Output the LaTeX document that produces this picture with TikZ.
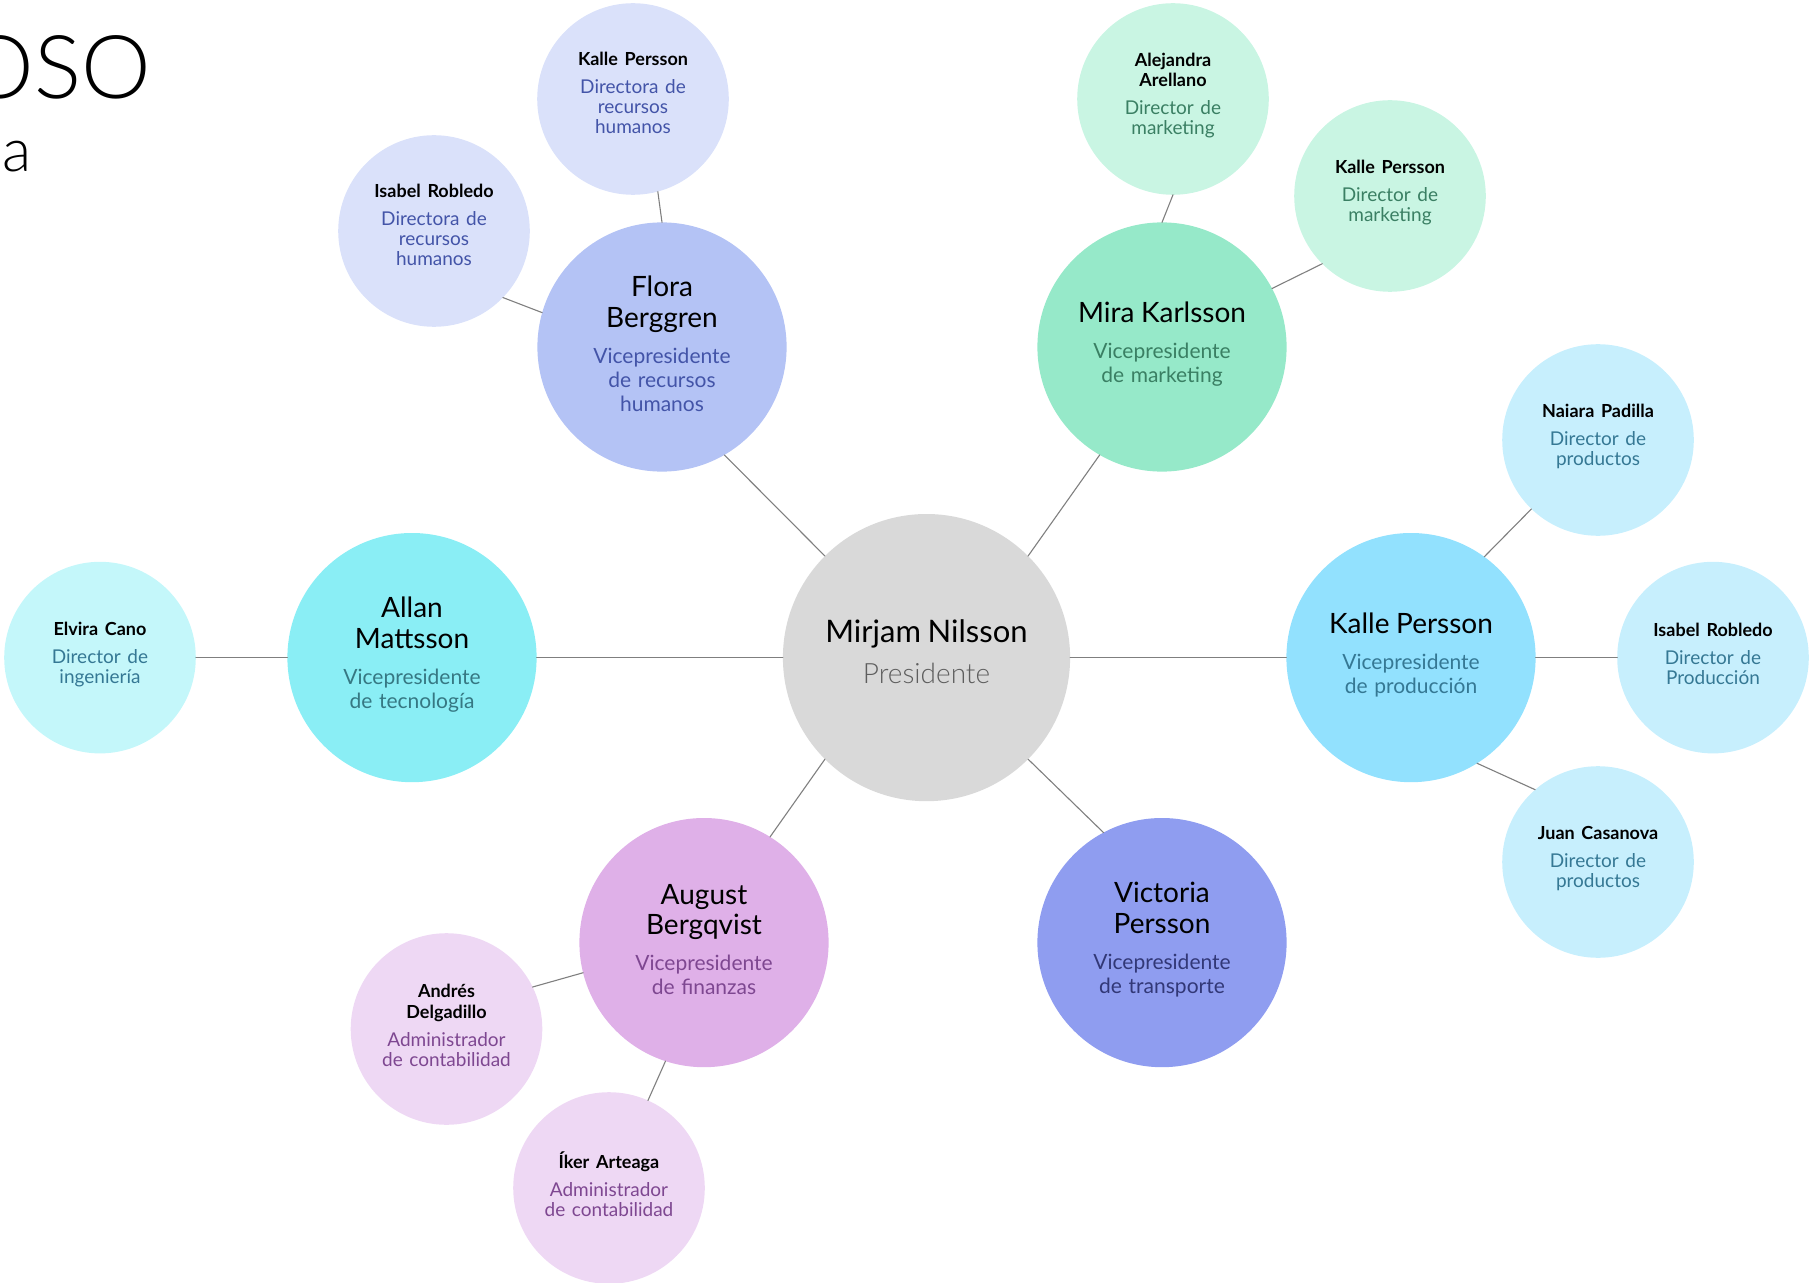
\documentclass[tikz,border=0pt]{standalone}
\usepackage{fontspec}
\setmainfont{Lato}
\newfontfamily\lightf{Lato Light}
\usetikzlibrary{positioning}

\definecolor{presfill}{HTML}{D9D9D9}
\definecolor{prestxt}{HTML}{5E5E5E}
\definecolor{hrmid}{HTML}{B4C3F5}
\definecolor{hrsmall}{HTML}{DAE1FA}
\definecolor{hrtxt}{HTML}{4354A8}
\definecolor{mkmid}{HTML}{96E9C9}
\definecolor{mksmall}{HTML}{C9F5E3}
\definecolor{mktxt}{HTML}{3A7F63}
\definecolor{prmid}{HTML}{92E1FE}
\definecolor{prsmall}{HTML}{C7EFFD}
\definecolor{prtxt}{HTML}{357894}
\definecolor{tcmid}{HTML}{8AEEF5}
\definecolor{tcsmall}{HTML}{C4F7FA}
\definecolor{tctxt}{HTML}{367883}
\definecolor{fnmid}{HTML}{DFB0E8}
\definecolor{fnsmall}{HTML}{EED8F4}
\definecolor{fntxt}{HTML}{7E4791}
\definecolor{trmid}{HTML}{8F9DF0}
\definecolor{trtxt}{HTML}{323877}
\definecolor{linkgray}{HTML}{7F7F7F}

\setlength{\parskip}{0pt}
% texto de cada burbuja
\newcommand{\topname}[1]{{\fontsize{15.5}{18}\selectfont #1\par}}
\newcommand{\toprole}[1]{\vspace{3.5pt}{\lightf\fontsize{14}{17}\selectfont\color{prestxt}#1\par}\kern5.8pt}
\newcommand{\vpname}[1]{{\fontsize{14}{15.3}\selectfont #1\par}}
\newcommand{\vprole}[2]{\vspace{6pt}{\fontsize{10.5}{12}\selectfont\color{#1}#2\par}\kern3pt}
\newcommand{\dirname}[1]{{\bfseries\fontsize{9}{10.4}\selectfont #1\par}}
\newcommand{\dirrole}[3][3.5pt]{\vspace{4pt}{\fontsize{9.5}{10}\selectfont\color{#2}#3\par}\kern#1}

\begin{document}
\begin{tikzpicture}[x=0.5pt, y=-0.5pt, line cap=round,
  every node/.style={inner sep=0pt, outer sep=0pt},
  bubble/.style={circle, align=center},
  pres/.style={bubble, fill=presfill, minimum size=143.6pt, text width=110pt},
  vp/.style={bubble, minimum size=124.6pt, text width=92pt},
  dir/.style={bubble, minimum size=95.8pt, text width=68pt},
  link/.style={draw=linkgray, line width=0.55pt}]
\useasboundingbox (0,0) rectangle (1809,1283);
\clip (0,0) rectangle (1809,1283);

% titulo cortado
\node[anchor=base east, font=\lightf\fontsize{44}{52}\selectfont] (title) at (151,99) {OSO};
\node[anchor=base east, font=\lightf\fontsize{30}{36}\selectfont] (subtitle) at (32,172) {na};

% presidente
\node[pres] (pres) at (926.5,657.6) {\topname{Mirjam Nilsson}\toprole{Presidente}};

% vicepresidentes
\node[vp, fill=hrmid] (flora) at (662,347) {\vpname{Flora\\Berggren}\vprole{hrtxt}{Vicepresidente\\de recursos\\humanos}};
\node[vp, fill=mkmid] (mira) at (1162,347) {\vpname{Mira Karlsson}\vprole{mktxt}{Vicepresidente\\de marketing}};
\node[vp, fill=tcmid] (allan) at (412,657.6) {\vpname{Allan\\Mattsson}\vprole{tctxt}{Vicepresidente\\de tecnología}};
\node[vp, fill=prmid] (kalle) at (1411,657.6) {\vpname{Kalle Persson}\vprole{prtxt}{Vicepresidente\\de producción}};
\node[vp, fill=fnmid] (august) at (704,942.6) {\vpname{August\\Bergqvist}\vprole{fntxt}{Vicepresidente\\de finanzas}};
\node[vp, fill=trmid] (victoria) at (1162,942.6) {\vpname{Victoria\\Persson}\vprole{trtxt}{Vicepresidente\\de transporte}};

% directores
\node[dir, fill=hrsmall] (kallehr) at (633,99) {\dirname{Kalle Persson}\dirrole[5.8pt]{hrtxt}{Directora de\\recursos\\humanos}};
\node[dir, fill=hrsmall] (isabelhr) at (434,231) {\dirname{Isabel Robledo}\dirrole[5.8pt]{hrtxt}{Directora de\\recursos\\humanos}};
\node[dir, fill=mksmall] (alejandra) at (1173,99) {\dirname{Alejandra\\Arellano}\dirrole{mktxt}{Director de\\marketing}};
\node[dir, fill=mksmall] (kallemk) at (1390,196) {\dirname{Kalle Persson}\dirrole{mktxt}{Director de\\marketing}};
\node[dir, fill=prsmall] (naiara) at (1598,440) {\dirname{Naiara Padilla}\dirrole{prtxt}{Director de\\productos}};
\node[dir, fill=prsmall] (isabelpr) at (1713,657.6) {\dirname{Isabel Robledo}\dirrole{prtxt}{Director de\\Producción}};
\node[dir, fill=prsmall] (juan) at (1598,862) {\dirname{Juan Casanova}\dirrole{prtxt}{Director de\\productos}};
\node[dir, fill=tcsmall] (elvira) at (100,657.6) {\dirname{Elvira Cano}\dirrole{prtxt}{Director de\\ingeniería}};
\node[dir, fill=fnsmall] (andres) at (446.5,1029) {\dirname{Andrés\\Delgadillo}\dirrole{fntxt}{Administrador\\de contabilidad}};
\node[dir, fill=fnsmall] (iker) at (609,1188) {\dirname{Íker Arteaga}\dirrole{fntxt}{Administrador\\de contabilidad}};

% conectores
\foreach \a/\aa/\b/\bb in {pres/135/flora/-60, pres/45/mira/-120, pres/180/allan/0, pres/0/kalle/180,
  pres/225/august/58, pres/-45/victoria/118,
  flora/90/kallehr/-75, flora/164/isabelhr/-44, mira/90/alejandra/-90, mira/28/kallemk/-135,
  kalle/54/naiara/-134, kalle/0/isabelpr/180, kalle/-58/juan/131, allan/180/elvira/0,
  august/194/andres/26, august/252/iker/66}
  \draw[link] (\a.\aa) -- (\b.\bb);
\end{tikzpicture}
\end{document}
